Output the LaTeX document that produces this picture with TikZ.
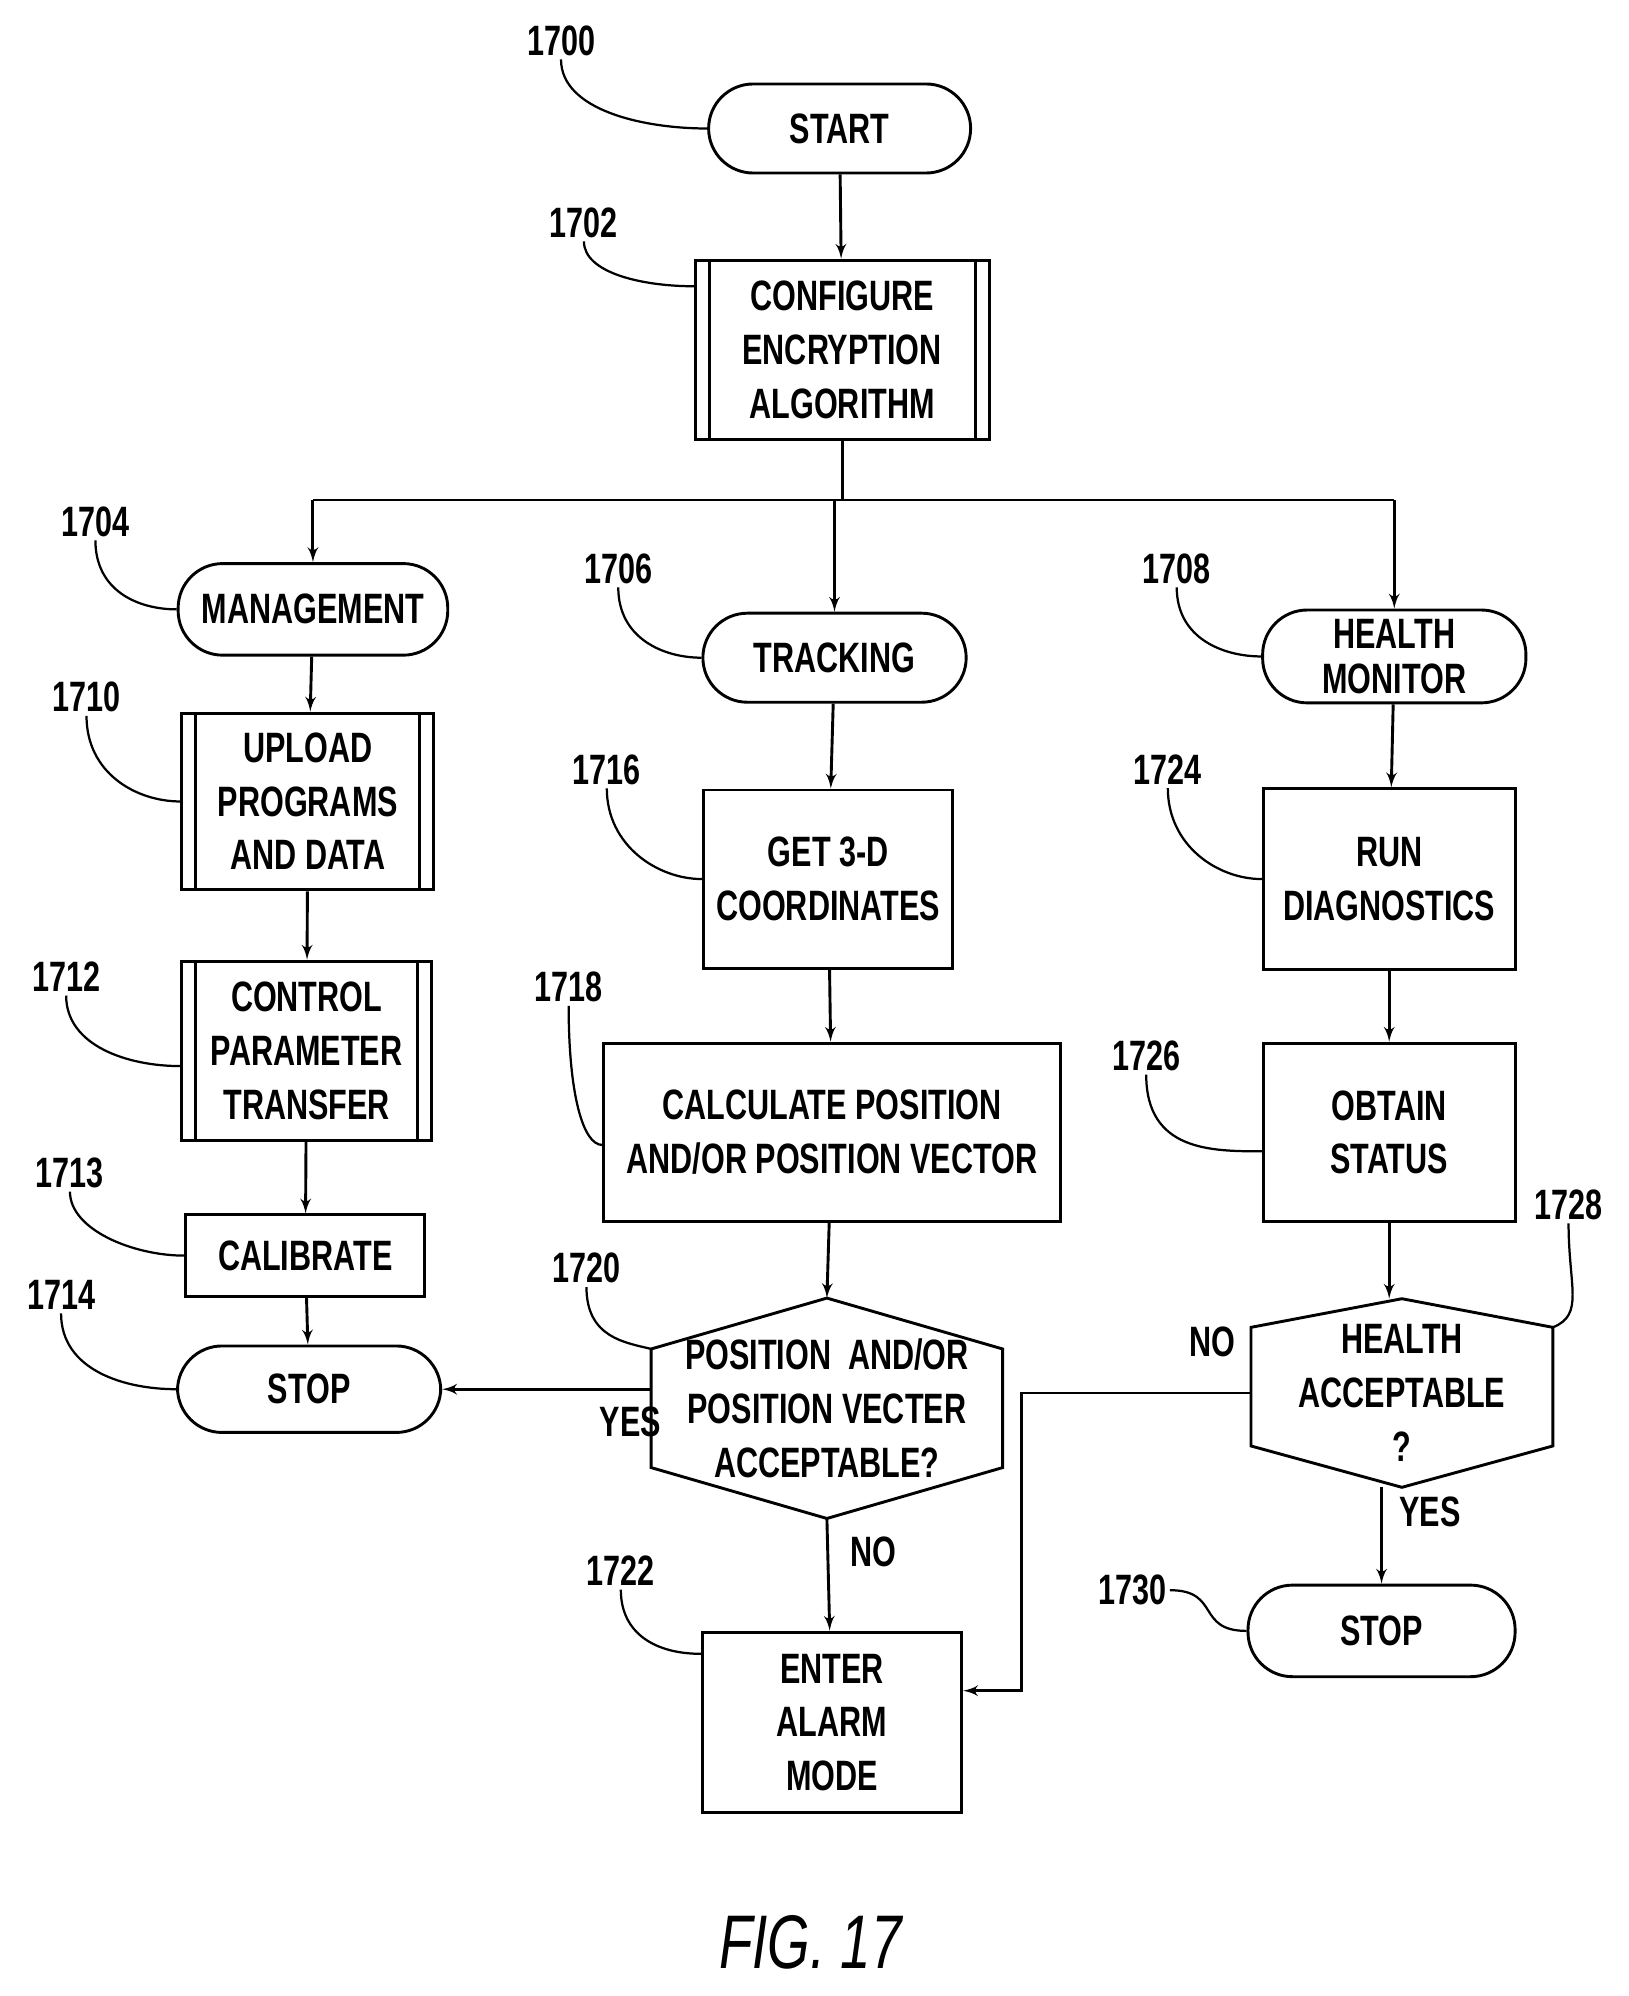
\documentclass[tikz,border=0pt]{standalone}
\usepackage{fontspec}
\setmainfont{Liberation Sans}[FakeStretch=0.72]
\usetikzlibrary{arrows, positioning, calc}

\begin{document}
\begin{tikzpicture}[
    x=0.02cm, y=-0.02cm,
    font=\fontsize{19}{24}\selectfont\bfseries,
    line width=1.3pt,
    term/.style={
        rectangle,
        draw,
        rounded corners=0.7cm,
        align=center,
        inner sep=2pt
    },
    block/.style={
        rectangle,
        draw,
        align=center,
        inner sep=2pt
    },
    sub/.style={
        block,
        path picture={
            \draw ([xshift=0.22cm]path picture bounding box.north west) -- ([xshift=0.22cm]path picture bounding box.south west);
            \draw ([xshift=-0.22cm]path picture bounding box.north east) -- ([xshift=-0.22cm]path picture bounding box.south east);
        }
    },
    dec/.style={
        rectangle,
        align=center,
        inner sep=0pt
    },
    line/.style={
        draw,
        -latex'
    },
    lead/.style={
        draw,
        line width=1pt
    },
    num/.style={
        inner sep=1pt
    }
]
\useasboundingbox (0,0) rectangle (1280,1569);

% Nodes
\node [term, minimum width=4.12cm, minimum height=1.4cm] (start) at (660,101) {START};
\node [sub, minimum width=4.62cm, minimum height=2.82cm] (config) at (662,275) {CONFIGURE\\ENCRYPTION\\ALGORITHM};
\node [term, minimum width=4.24cm, minimum height=1.44cm] (manage) at (246,479) {MANAGEMENT};
\node [term, minimum width=4.14cm, minimum height=1.4cm] (track) at (656,517) {TRACKING};
\node [term, minimum width=4.14cm, minimum height=1.46cm] (health) at (1096,516) {HEALTH\\[-4pt]MONITOR};
\node [sub, minimum width=3.96cm, minimum height=2.78cm] (upload) at (242,630) {UPLOAD\\PROGRAMS\\AND DATA};
\node [sub, minimum width=3.94cm, minimum height=2.82cm] (control) at (241,826) {CONTROL\\PARAMETER\\TRANSFER};
\node [block, minimum width=3.76cm, minimum height=1.28cm] (calib) at (240,987) {CALIBRATE};
\node [term, minimum width=4.14cm, minimum height=1.36cm] (stopa) at (243,1092) {STOP};
\node [block, minimum width=3.92cm, minimum height=2.8cm] (coord) at (651,691) {GET 3-D\\COORDINATES};
\node [block, minimum width=7.18cm, minimum height=2.8cm] (calc) at (654,890) {CALCULATE POSITION\\AND/OR POSITION VECTOR};
\node [dec, minimum width=5.48cm, minimum height=3.42cm] (posok) at (650,1107) {POSITION~ AND/OR\\POSITION VECTER\\ACCEPTABLE?};
\node [block, minimum width=4.08cm, minimum height=2.84cm] (alarm) at (654,1354) {ENTER\\ALARM\\MODE};
\node [block, minimum width=3.96cm, minimum height=2.84cm] (diag) at (1092,691) {RUN\\DIAGNOSTICS};
\node [block, minimum width=3.96cm, minimum height=2.8cm] (status) at (1092,890) {OBTAIN\\STATUS};
\node [dec, minimum width=4.7cm, minimum height=2.92cm] (healthok) at (1102,1095) {HEALTH\\ACCEPTABLE\\?};
\node [term, minimum width=4.2cm, minimum height=1.44cm] (stopb) at (1086,1282) {STOP};
\node [font=\fontsize{34}{36}\selectfont\itshape] (fig) at (637,1527) {FIG. 17};

% Hexagons
\draw (posok.north) -- ([yshift=-0.8cm]posok.north east) -- ([yshift=0.8cm]posok.south east)
    -- (posok.south) -- ([yshift=0.8cm]posok.south west) -- ([yshift=-0.8cm]posok.north west) -- cycle;
\draw (healthok.north) -- ([yshift=-0.45cm]healthok.north east) -- ([yshift=0.65cm]healthok.south east)
    -- (healthok.south) -- ([yshift=0.65cm]healthok.south west) -- ([yshift=-0.45cm]healthok.north west) -- cycle;

% Paths
\coordinate (bus) at (config.south |- 0,393);
\path [line] (start) -- (config);
\draw (config.south) -- (bus);
\draw (manage.north |- bus) -- (health.north |- bus);
\path [line] (manage.north |- bus) -- (manage.north);
\path [line] (bus) -- (bus -| track.north) -- (track.north);
\path [line] (health.north |- bus) -- (health.north);
\path [line] (manage) -- (upload);
\path [line] (upload) -- (control);
\path [line] (control) -- (calib);
\path [line] (calib) -- (stopa);
\path [line] (track) -- (coord);
\path [line] (coord) -- (calc);
\path [line] (calc) -- (posok.north);
\path [line] (posok.west |- stopa) -- node [below=4pt, pos=0.1] {YES} (stopa);
\path [line] (posok.south) -- node [right=6pt, pos=0.3] {NO} (alarm);
\path [line] (health) -- (diag);
\path [line] (diag) -- (status);
\path [line] (status) -- (status.south |- healthok.north);
\coordinate (turn) at (803,1095);
\path [line] (healthok.west) -- node [above=12pt, pos=0.17] {NO} (turn) |- ([yshift=0.5cm]alarm.east);
\path [line] (healthok.south -| stopb.north) -- node [right=4pt, pos=0.25] {YES} (stopb);

% Reference numbers
\node [num] (n1700) at (441,32) {1700};
\node [num] (n1702) at (459,175) {1702};
\node [num] (n1704) at (75,410) {1704};
\node [num] (n1706) at (486,447) {1706};
\node [num] (n1708) at (925,447) {1708};
\node [num] (n1710) at (68,548) {1710};
\node [num] (n1712) at (52,768) {1712};
\node [num] (n1713) at (55,922) {1713};
\node [num] (n1714) at (48,1018) {1714};
\node [num] (n1716) at (477,605) {1716};
\node [num] (n1718) at (447,776) {1718};
\node [num] (n1720) at (461,997) {1720};
\node [num] (n1722) at (488,1235) {1722};
\node [num] (n1724) at (918,605) {1724};
\node [num] (n1726) at (901,830) {1726};
\node [num] (n1728) at (1233,947) {1728};
\node [num] (n1730) at (890,1250) {1730};

\path [lead] (n1700.south) .. controls +(0,40) and +(-50,0) .. (start.west);
\path [lead] (n1702.south) .. controls +(0,25) and +(-40,0) .. ([yshift=1.0cm]config.west);
\path [lead] (n1704.south) .. controls +(0,40) and +(-30,0) .. (manage.west);
\path [lead] (n1706.south) .. controls +(0,40) and +(-30,0) .. (track.west);
\path [lead] (n1708.south) .. controls +(0,40) and +(-30,0) .. (health.west);
\path [lead] (n1710.south) .. controls +(0,45) and +(-35,0) .. (upload.west);
\path [lead] (n1712.south) .. controls +(0,40) and +(-40,0) .. ([yshift=-0.24cm]control.west);
\path [lead] (n1713.south) .. controls +(0,30) and +(-40,0) .. (calib.west);
\path [lead] (n1714.south) .. controls +(0,45) and +(-40,0) .. (stopa.west);
\path [lead] (n1716.south) .. controls +(0,45) and +(-35,0) .. (coord.west);
\path [lead] (n1718.south) .. controls +(0,70) and +(-15,0) .. ([yshift=-0.2cm]calc.west);
\path [lead] (n1720.south) .. controls +(0,40) and +(-20,-5) .. ([yshift=-0.8cm]posok.north west);
\path [lead] (n1722.south) .. controls +(0,35) and +(-35,0) .. ([yshift=1.08cm]alarm.west);
\path [lead] (n1724.south) .. controls +(0,45) and +(-35,0) .. (diag.west);
\path [lead] (n1726.south) .. controls +(0,60) and +(-40,0) .. ([yshift=-0.3cm]status.west);
\path [lead] (n1728.south) .. controls +(0,50) and +(25,-10) .. ([yshift=-0.45cm]healthok.north east);
\path [lead] (n1730.east) .. controls +(40,0) and +(-40,0) .. (stopb.west);

\end{tikzpicture}
\end{document}
